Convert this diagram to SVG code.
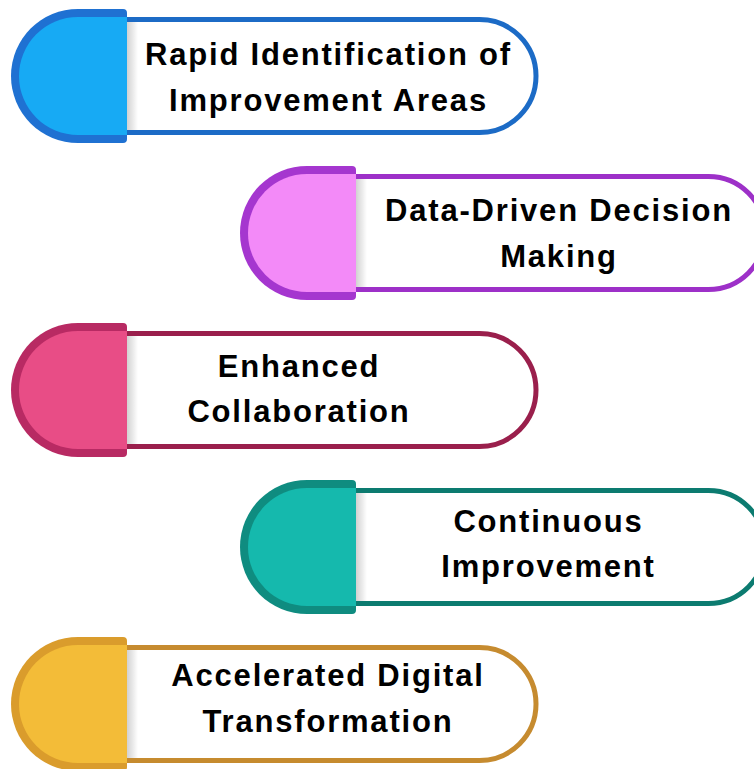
<svg xmlns="http://www.w3.org/2000/svg" width="754" height="769" viewBox="0 0 754 769">
<style>
.lbl{font-family:"Liberation Sans",Arial,sans-serif;font-weight:bold;font-size:31px;letter-spacing:1.8px;fill:#000;text-anchor:middle}
.pill{fill:#fff;stroke-width:5}
</style>
<defs>
<linearGradient id="shd" x1="0" y1="0" x2="1" y2="0">
<stop offset="0" stop-color="#000" stop-opacity="0.18"/>
<stop offset="1" stop-color="#000" stop-opacity="0"/>
</linearGradient>
<path id="outer" d="M78,9 H123 Q127,9 127,13 V139 Q127,143 123,143 H78 A67,67 0 0 1 78,9 Z"/>
<path id="inner" d="M78,17 H127 V135 H78 A59,59 0 0 1 78,17 Z"/>
<path id="body" d="M110,19.5 H479.5 A56.5,56.5 0 0 1 479.5,132.5 H110 Z"/>
</defs>
<rect width="754" height="769" fill="#fff"/>
<g id="connectors"/>
<g id="node1">
<use href="#body" class="pill" stroke="#1C6BC6"/>
<rect x="127" y="22" width="11" height="108" fill="url(#shd)"/>
<use href="#outer" fill="#1F71D2"/>
<use href="#inner" fill="#17AAF4"/>
<text class="lbl" x="328.5" y="65">Rapid Identification of</text>
<text class="lbl" x="328.5" y="111">Improvement Areas</text>
</g>
<g id="node2" transform="translate(229,157)">
<use href="#body" class="pill" stroke="#9D30C8"/>
<rect x="127" y="22" width="11" height="108" fill="url(#shd)"/>
<use href="#outer" fill="#A536CF"/>
<use href="#inner" fill="#F38AF8"/>
<text class="lbl" x="330" y="64">Data-Driven Decision</text>
<text class="lbl" x="330" y="110">Making</text>
</g>
<g id="node3" transform="translate(0,314)">
<use href="#body" class="pill" stroke="#9A1F4C"/>
<rect x="127" y="22" width="11" height="108" fill="url(#shd)"/>
<use href="#outer" fill="#B82A63"/>
<use href="#inner" fill="#E84D86"/>
<text class="lbl" x="299" y="63">Enhanced</text>
<text class="lbl" x="299" y="108">Collaboration</text>
</g>
<g id="node4" transform="translate(229,471)">
<use href="#body" class="pill" stroke="#0C7B70"/>
<rect x="127" y="22" width="11" height="108" fill="url(#shd)"/>
<use href="#outer" fill="#0F8C80"/>
<use href="#inner" fill="#15B9AD"/>
<text class="lbl" x="319.5" y="61">Continuous</text>
<text class="lbl" x="319.5" y="106">Improvement</text>
</g>
<g id="node5" transform="translate(0,628)">
<use href="#body" class="pill" stroke="#C68B2F"/>
<rect x="127" y="22" width="11" height="108" fill="url(#shd)"/>
<use href="#outer" fill="#DA9C2C"/>
<use href="#inner" fill="#F3BC38"/>
<text class="lbl" x="328" y="58">Accelerated Digital</text>
<text class="lbl" x="328" y="104">Transformation</text>
</g>
</svg>
